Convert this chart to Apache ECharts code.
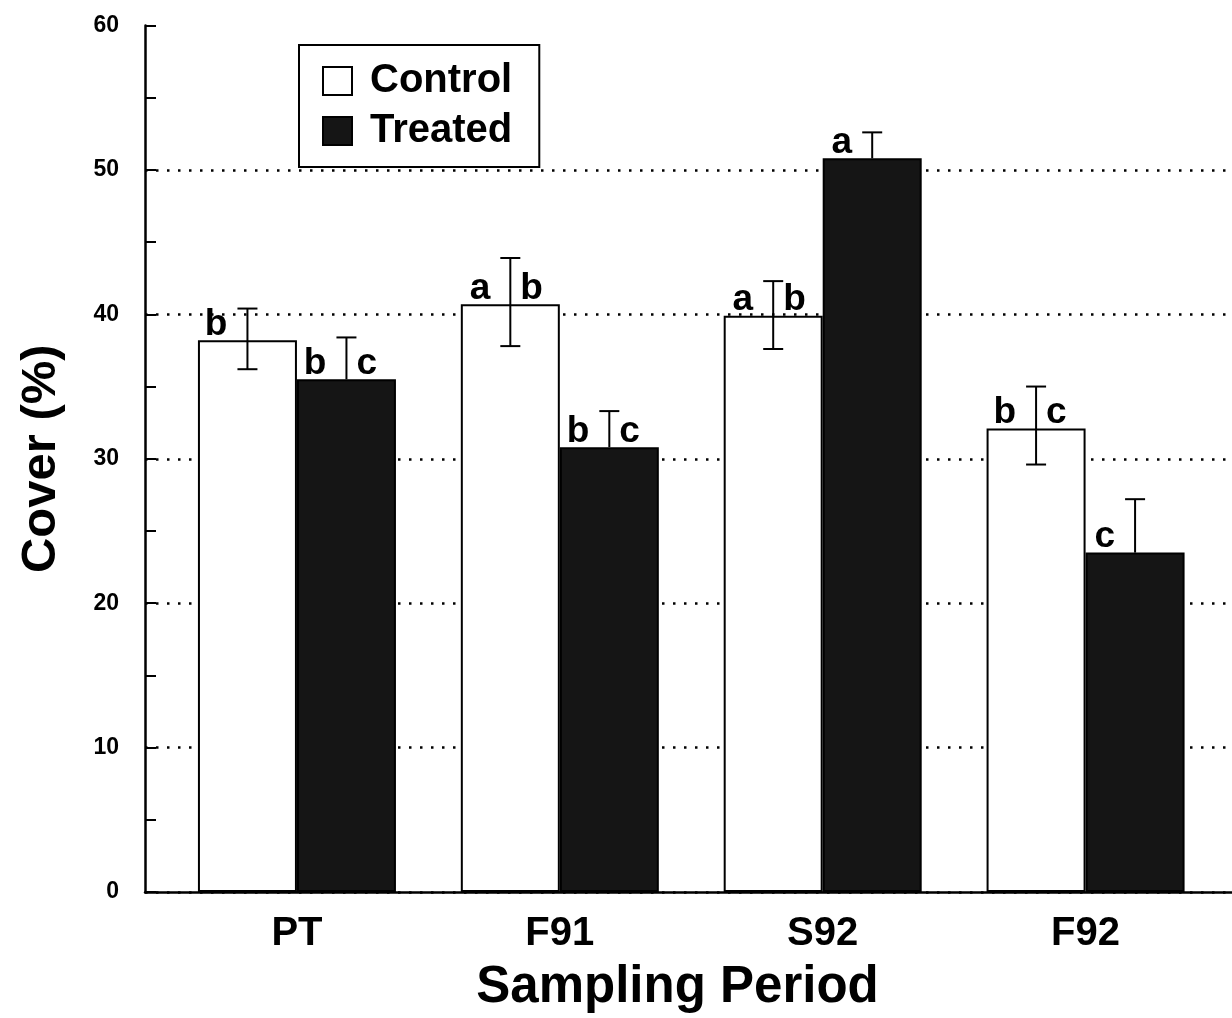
<!DOCTYPE html>
<html>
<head>
<meta charset="utf-8">
<script src="https://cdn.jsdelivr.net/npm/echarts@6/dist/echarts.min.js"></script>
<style>
  html, body { margin: 0; padding: 0; background: #fff; }
  #main { width: 1232px; height: 1018px; }
</style>
</head>
<body>
<div id="main"></div>
<script>
// data
var categories = ['PT', 'F91', 'S92', 'F92'];
var controlMean = [38.2, 40.7, 39.9, 32.1];
var controlLow = [36.2, 37.8, 37.6, 29.6];
var controlHigh = [40.4, 43.9, 42.3, 35.0];
var treatedMean = [35.5, 30.8, 50.8, 23.5];
var treatedHigh = [38.4, 33.3, 52.6, 27.2]; // lower whisker hidden inside the dark bar
var controlLetters = [['b'], ['a', 'b'], ['a', 'b'], ['b', 'c']];
var treatedLetters = [['b', 'c'], ['b', 'c'], ['a'], ['c']];
var yTicks = [0, 10, 20, 30, 40, 50, 60];

var FONT = 'Liberation Sans, Arial, Helvetica, sans-serif';
var BAR_W = 99;

function errorSeries(name, means, lows, highs, letters, side) {
  return {
    type: 'custom',
    name: name,
    silent: true,
    z: 5,
    encode: { x: 0, y: 1 },
    data: means.map(function (m, i) { return [i + 1, m, lows ? lows[i] : m, highs[i], i]; }),
    renderItem: function (params, api) {
      var cx = api.coord([api.value(0), 0])[0] + side * BAR_W / 2;
      var yTop = api.coord([api.value(0), api.value(1)])[1];
      var yLo = api.coord([api.value(0), api.value(2)])[1];
      var yHi = api.coord([api.value(0), api.value(3)])[1];
      var st = { stroke: '#000', lineWidth: 2 };
      var kids = [
        { type: 'line', shape: { x1: cx, y1: yLo, x2: cx, y2: yHi }, style: st },
        { type: 'line', shape: { x1: cx - 10, y1: yHi, x2: cx + 10, y2: yHi }, style: st }
      ];
      if (lows) {
        kids.push({ type: 'line', shape: { x1: cx - 10, y1: yLo, x2: cx + 10, y2: yLo }, style: st });
      }
      var ls = letters[api.value(4)];
      var txt = { fill: '#000', font: 'bold 37px ' + FONT, verticalAlign: 'bottom' };
      kids.push({ type: 'text', style: Object.assign({ text: ls[0], x: cx - 20, y: yTop + 3, align: 'right' }, txt) });
      if (ls.length > 1) {
        kids.push({ type: 'text', style: Object.assign({ text: ls[1], x: cx + 10, y: yTop + 3, align: 'left' }, txt) });
      }
      return { type: 'group', children: kids };
    }
  };
}

var chart = echarts.init(document.getElementById('main'));

chart.setOption({
  backgroundColor: '#fff',
  animation: false,
  textStyle: { fontFamily: FONT },
  grid: { left: 145, right: 0, top: 25.5, bottom: 125.5 },
  legend: {
    left: 299,
    top: 45,
    orient: 'vertical',
    backgroundColor: '#fff',
    borderColor: '#000',
    borderWidth: 2,
    borderRadius: 0,
    padding: [16, 27, 16, 23],
    itemWidth: 29,
    itemHeight: 28,
    itemGap: 10,
    icon: 'rect',
    textStyle: { fontSize: 40, fontWeight: 'bold', color: '#000', lineHeight: 36, padding: [0, 0, 0, 13] },
    data: [
      { name: 'Control', itemStyle: { color: '#fff', borderColor: '#000', borderWidth: 2 } },
      { name: 'Treated', itemStyle: { color: '#151515', borderColor: '#000', borderWidth: 2 } }
    ]
  },
  xAxis: {
    type: 'value',
    min: 0.422,
    max: 4.557,
    name: 'Sampling Period',
    nameLocation: 'middle',
    nameGap: 70,
    nameTextStyle: { fontSize: 51, fontWeight: 'bold', color: '#000', padding: [0, 22, 0, 0] },
    axisLine: { lineStyle: { color: '#000', width: 2.5 } },
    axisTick: { show: false },
    splitLine: { show: false },
    axisLabel: {
      customValues: [1, 2, 3, 4],
      formatter: function (v) { return categories[Math.round(v) - 1]; },
      fontSize: 40,
      fontWeight: 'bold',
      color: '#000',
      margin: 22
    }
  },
  yAxis: {
    type: 'value',
    min: yTicks[0],
    max: yTicks[yTicks.length - 1],
    interval: 10,
    name: 'Cover (%)',
    nameLocation: 'middle',
    nameGap: 79,
    nameTextStyle: { fontSize: 49, fontWeight: 'bold', color: '#000' },
    axisLine: { show: true, lineStyle: { color: '#000', width: 2.5 } },
    axisTick: { show: true, inside: true, length: 11, lineStyle: { color: '#000', width: 2 } },
    minorTick: { show: true, splitNumber: 2, length: 11, lineStyle: { color: '#000', width: 2 } },
    axisLabel: { fontSize: 23, fontWeight: 'bold', color: '#000', margin: 26 },
    splitLine: {
      show: true,
      showMaxLine: false,
      lineStyle: { color: '#000', width: 2.5, type: [2.5, 8.5] }
    }
  },
  series: [
    {
      type: 'bar',
      name: 'Control',
      barWidth: BAR_W,
      barGap: '0%',
      itemStyle: { color: '#fff', borderColor: '#000', borderWidth: 2 },
      data: controlMean.map(function (v, i) { return [i + 1, v]; })
    },
    {
      type: 'bar',
      name: 'Treated',
      barWidth: BAR_W,
      barGap: '0%',
      itemStyle: { color: '#151515', borderColor: '#000', borderWidth: 2 },
      data: treatedMean.map(function (v, i) { return [i + 1, v]; })
    },
    errorSeries('Control err', controlMean, controlLow, controlHigh, controlLetters, -1),
    errorSeries('Treated err', treatedMean, null, treatedHigh, treatedLetters, 1)
  ]
});
</script>
</body>
</html>
